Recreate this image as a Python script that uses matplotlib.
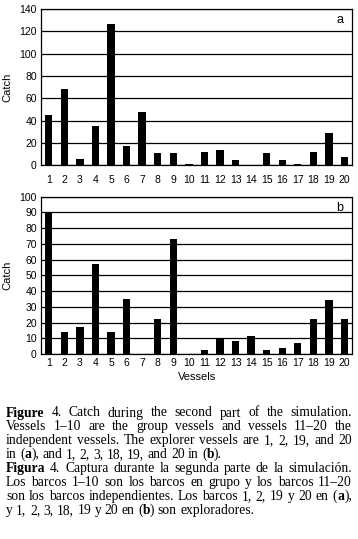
import matplotlib
matplotlib.use("Agg")
import matplotlib.pyplot as plt
import numpy as np

# datos
vessels = list(range(1, 21))
catch_a = [45, 68, 6, 35, 127, 17, 48, 11, 11, 1, 12, 14, 5, 0, 11, 5, 1, 12, 29, 7]
catch_b = [90, 14, 17, 57, 14, 35, 0, 22, 73, 0, 2.5, 10, 8, 11.5, 2.5, 4, 7, 22, 34.5, 22]

caption_en = [
    "**Figure** 4. Catch during the second part of the simulation.",
    "Vessels 1–10 are the group vessels and vessels 11–20 the",
    "independent vessels. The explorer vessels are 1, 2, 19, and 20",
    "in (**a**), and 1, 2, 3, 18, 19, and 20 in (**b**).",
]
caption_es = [
    "**Figura** 4. Captura durante la segunda parte de la simulación.",
    "Los barcos 1–10 son los barcos en grupo y los barcos 11–20",
    "son los barcos independientes. Los barcos 1, 2, 19 y 20 en (**a**),",
    "y 1, 2, 3, 18, 19 y 20 en (**b**) son exploradores.",
]

plt.rcParams['font.family'] = ['Liberation Sans', 'DejaVu Sans']

W, H = 358, 539
fig = plt.figure(figsize=(W / 100, H / 100), dpi=100)

def panel(rect, values, ymax, step, letter, xpad):
    ax = fig.add_axes(rect)
    ax.bar(vessels, values, width=0.47, color="black", zorder=3)
    ax.set_xlim(0.5, 20.5)
    ax.set_ylim(0, ymax)
    ax.set_yticks(np.arange(0, ymax + 1, step))
    ax.set_xticks(vessels)
    ax.tick_params(axis="y", length=0, pad=3, labelsize=7.5)
    ax.tick_params(axis="x", length=0, pad=xpad, labelsize=7.5)
    ax.yaxis.grid(True, color="black", linewidth=0.9, zorder=1)
    for s in ax.spines.values():
        s.set_linewidth(0.9)
    ax.set_ylabel("Catch", fontsize=8)
    ax.yaxis.set_label_coords(-0.093, 0.5)
    ax.text(0.961, 0.93, letter, transform=ax.transAxes, fontsize=9,
            ha="center", va="center")
    return ax

ax1 = panel([0.1145, 0.6933, 0.8695, 0.29], catch_a, 140, 20, "a", 7)
ax2 = panel([0.1145, 0.3432, 0.8695, 0.2918], catch_b, 100, 10, "b", 3)
ax2.set_xlabel("Vessels", fontsize=8, labelpad=3)

# pie de figura justificado
fig.canvas.draw()
renderer = fig.canvas.get_renderer()
serif = ['Liberation Serif', 'DejaVu Serif']
fs = 9.8

def runs(word):
    parts = word.split("**")
    return [(p, i % 2 == 1) for i, p in enumerate(parts) if p]

def width_of(t):
    return t.get_window_extent(renderer).width

probe1 = fig.text(0, 0, "a a", fontsize=fs, family=serif)
probe2 = fig.text(0, 0, "aa", fontsize=fs, family=serif)
space_w = width_of(probe1) - width_of(probe2)
probe1.remove()
probe2.remove()

x0, x1 = 6, 352
y = 416.5
for para in (caption_en, caption_es):
    for li, line in enumerate(para):
        words = line.split(" ")
        items = []
        for w in words:
            objs = []
            for txt, bold in runs(w):
                t = fig.text(0, 1 - y / H, txt, fontsize=fs, family=serif,
                             fontweight="bold" if bold else "normal",
                             va="baseline", ha="left")
                objs.append((t, width_of(t)))
            items.append(objs)
        total = sum(wd for objs in items for _, wd in objs)
        last = li == len(para) - 1
        gap = space_w if last else (x1 - x0 - total) / (len(items) - 1)
        x = x0
        for objs in items:
            for t, wd in objs:
                t.set_x(x / W)
                x += wd
            x += gap
        y += 13.9

fig.savefig("out.png", dpi=100)
